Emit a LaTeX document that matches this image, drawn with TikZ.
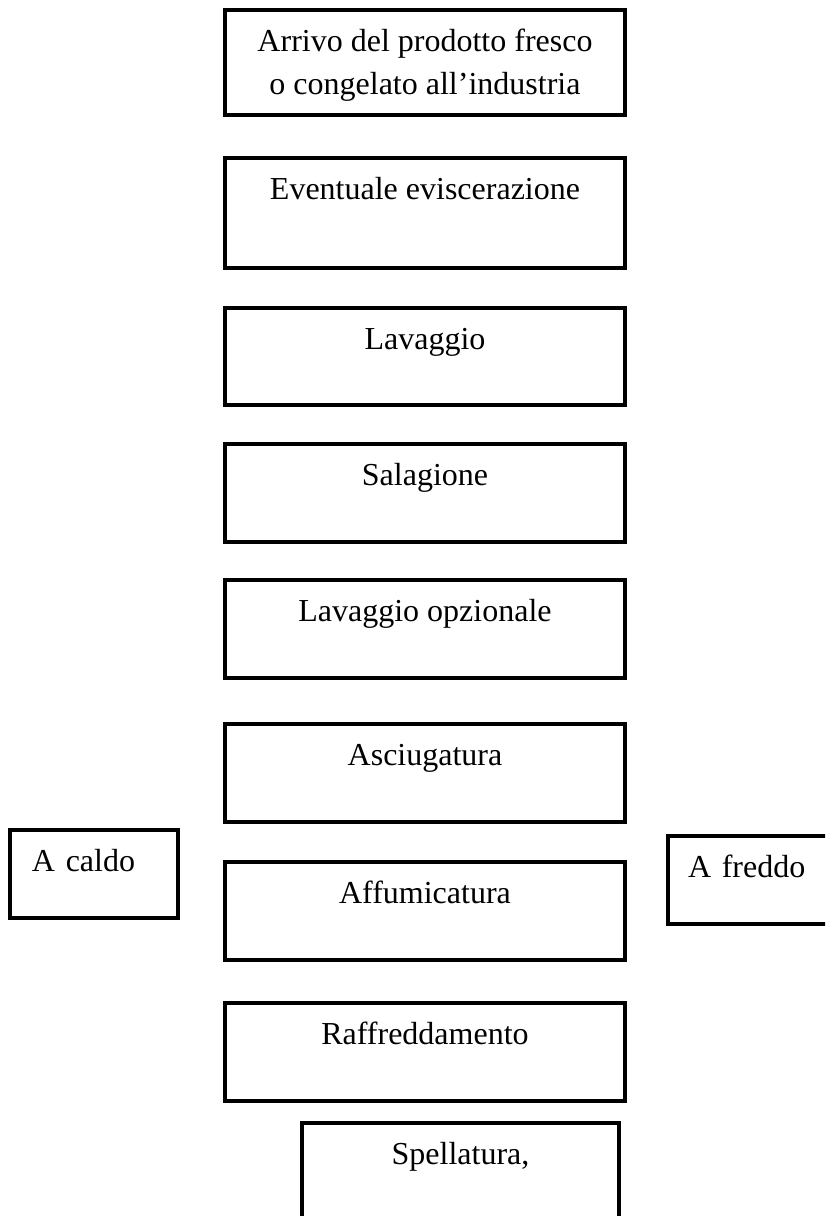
\documentclass[tikz,border=0pt]{standalone}
\usepackage{fontspec}
\setmainfont{Liberation Serif}
\tikzset{
  stepbox/.style={draw, line width=1.8pt, outer sep=0pt, inner sep=0pt, anchor=north,
    minimum width=200pt, align=center, text height=20.5pt, text depth=28.5pt,
    font=\fontsize{16}{21.5}\selectfont},
  sidebox/.style={stepbox, minimum width=0pt, text width=62pt, inner xsep=11pt, align=left, text depth=23.5pt}
}
\begin{document}
\begin{tikzpicture}[x=0.5pt,y=-0.5pt]
\useasboundingbox (0,0) rectangle (825,1216);
\clip (0,0) rectangle (825,1216);
\node[stepbox, text height=42pt, text depth=10.5pt] (arrivo) at (425,10) {Arrivo del prodotto fresco\\o congelato all’industria};
\node[stepbox, text depth=34.5pt] (eviscer) at (425,158) {Eventuale eviscerazione};
\node[stepbox, text depth=28pt] (lavaggio) at (425,308) {Lavaggio};
\node[stepbox] (salagione) at (425,444) {Salagione};
\node[stepbox] (lavopz) at (425,580) {Lavaggio opzionale};
\node[stepbox] (asciug) at (425,724) {Asciugatura};
\node[stepbox] (affum) at (425,862) {Affumicatura};
\node[stepbox] (raffredd) at (425,1003) {Raffreddamento};
\node[stepbox, minimum width=158.5pt, text depth=42pt] (spellat) at (460.5,1123) {Spellatura,};
% metodi di affumicatura
\node[sidebox] (caldo) at (94,830) {A caldo};
\node[sidebox, inner xsep=10pt, text width=64pt] (freddo) at (752,836) {A freddo};
\end{tikzpicture}
\end{document}
